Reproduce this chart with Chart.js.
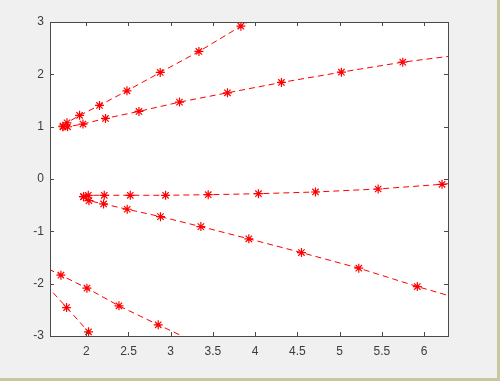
<!DOCTYPE html>
<html>
<head>
<meta charset="utf-8">
<script src="https://cdn.jsdelivr.net/npm/chart.js@4/dist/chart.umd.min.js"></script>
<style>
  html, body { margin: 0; padding: 0; }
  body { width: 500px; height: 381px; background: #c9c79d; position: relative; overflow: hidden; }
  #bg { position: absolute; left: 0; top: 0; width: 497px; height: 378px; background: #f0f0f0; }
  #c { position: absolute; left: 0; top: 0; }
</style>
</head>
<body>
<div id="bg"></div>
<canvas id="c" width="500" height="381"></canvas>
<script>
// Tick labels
const xTicks = [2, 2.5, 3, 3.5, 4, 4.5, 5, 5.5, 6];
const yTicks = [-3, -2, -1, 0, 1, 2, 3];

// Series (x, y); first/last values extend past the axes and are clipped
const aX = [1.724, 1.772, 1.921, 2.157, 2.482, 2.876, 3.334, 3.831, 4.40];
const aY = [1.01, 1.075, 1.216, 1.406, 1.685, 2.036, 2.437, 2.92, 3.47];

const bX = [1.724, 1.779, 1.961, 2.228, 2.624, 3.104, 3.672, 4.311, 5.021, 5.748, 6.52];
const bY = [0.998, 0.998, 1.05, 1.158, 1.292, 1.469, 1.647, 1.845, 2.042, 2.233, 2.39];

const cX = [1.968, 2.024, 2.213, 2.521, 2.939, 3.444, 4.039, 4.714, 5.456, 6.213, 6.9];
const cY = [-0.338, -0.311, -0.311, -0.311, -0.311, -0.300, -0.281, -0.248, -0.191, -0.101, 0.0];

const dX = [1.968, 2.032, 2.205, 2.485, 2.879, 3.357, 3.925, 4.548, 5.227, 5.92, 6.7];
const dY = [-0.338, -0.414, -0.477, -0.578, -0.719, -0.910, -1.143, -1.406, -1.704, -2.055, -2.42];

const eX = [1.45, 1.70, 2.008, 2.387, 2.852, 3.40];
const eY = [-1.637, -1.838, -2.086, -2.424, -2.786, -3.20];

const fX = [1.45, 1.767, 2.027, 2.25];
const fY = [-1.89, -2.456, -2.920, -3.32];

const series = [[aX, aY], [bX, bY], [cX, cY], [dX, dY], [eX, eY], [fX, fY]];

const FONT = { family: '"Liberation Sans", Arial, Helvetica, sans-serif', size: 12 };
const AXIS_COLOR = '#4a4a4a';
const LABEL_COLOR = '#3c3c3c';
const RED = '#ff0000';

const datasets = series.map(([xs, ys]) => ({
  data: xs.map((x, i) => ({ x: x, y: ys[i] })),
  showLine: true,
  borderColor: RED,
  backgroundColor: RED,
  borderWidth: 1,
  borderDash: [6, 4],
  pointStyle: 'star',
  pointRadius: 4.5,
  pointBorderColor: RED,
  pointBorderWidth: 1.2,
  pointBackgroundColor: RED,
  pointHoverRadius: 4.5,
  clip: 0,
  tension: 0
}));

const framePlugin = {
  id: 'frame',
  beforeDatasetsDraw(chart) {
    const a = chart.chartArea, ctx = chart.ctx;
    ctx.save();
    ctx.fillStyle = '#ffffff';
    ctx.fillRect(a.left, a.top, a.right - a.left, a.bottom - a.top);
    ctx.restore();
  },
  afterDraw(chart) {
    const a = chart.chartArea, ctx = chart.ctx;
    const xs = chart.scales.x, ys = chart.scales.y;
    const L = 4;
    ctx.save();
    ctx.strokeStyle = AXIS_COLOR;
    ctx.lineWidth = 1;
    ctx.setLineDash([]);
    ctx.beginPath();
    xTicks.forEach(v => {
      const px = Math.round(xs.getPixelForValue(v)) + 0.5;
      ctx.moveTo(px, a.bottom); ctx.lineTo(px, a.bottom - L);
      ctx.moveTo(px, a.top); ctx.lineTo(px, a.top + L);
    });
    yTicks.forEach(v => {
      const py = Math.round(ys.getPixelForValue(v)) + 0.5;
      ctx.moveTo(a.left, py); ctx.lineTo(a.left + L, py);
      ctx.moveTo(a.right, py); ctx.lineTo(a.right - L, py);
    });
    ctx.stroke();
    ctx.strokeRect(Math.round(a.left) + 0.5, Math.round(a.top) + 0.5,
                   Math.round(a.right - a.left), Math.round(a.bottom - a.top));
    ctx.restore();
  }
};

new Chart(document.getElementById('c'), {
  type: 'scatter',
  data: { datasets: datasets },
  options: {
    responsive: false,
    animation: false,
    events: [],
    layout: { padding: { top: 22, right: 52, left: 0, bottom: 0 } },
    elements: { point: { borderColor: RED, backgroundColor: RED } },
    plugins: { legend: { display: false }, tooltip: { enabled: false } },
    scales: {
      x: {
        type: 'linear',
        min: Math.PI / 2,
        max: 2 * Math.PI,
        afterBuildTicks: s => { s.ticks = xTicks.map(v => ({ value: v })); },
        afterFit: s => { s.height = 45; },
        grid: { display: false, drawTicks: false, tickLength: 0 },
        border: { display: false },
        ticks: { font: FONT, color: LABEL_COLOR, padding: 8, maxRotation: 0, autoSkip: false,
                 callback: v => String(v) }
      },
      y: {
        type: 'linear',
        min: -3,
        max: 3,
        afterBuildTicks: s => { s.ticks = yTicks.map(v => ({ value: v })); },
        afterFit: s => { s.width = 50; },
        grid: { display: false, drawTicks: false, tickLength: 0 },
        border: { display: false },
        ticks: { font: FONT, color: LABEL_COLOR, padding: 6, autoSkip: false,
                 callback: v => String(v) }
      }
    }
  },
  plugins: [framePlugin]
});
</script>
</body>
</html>
